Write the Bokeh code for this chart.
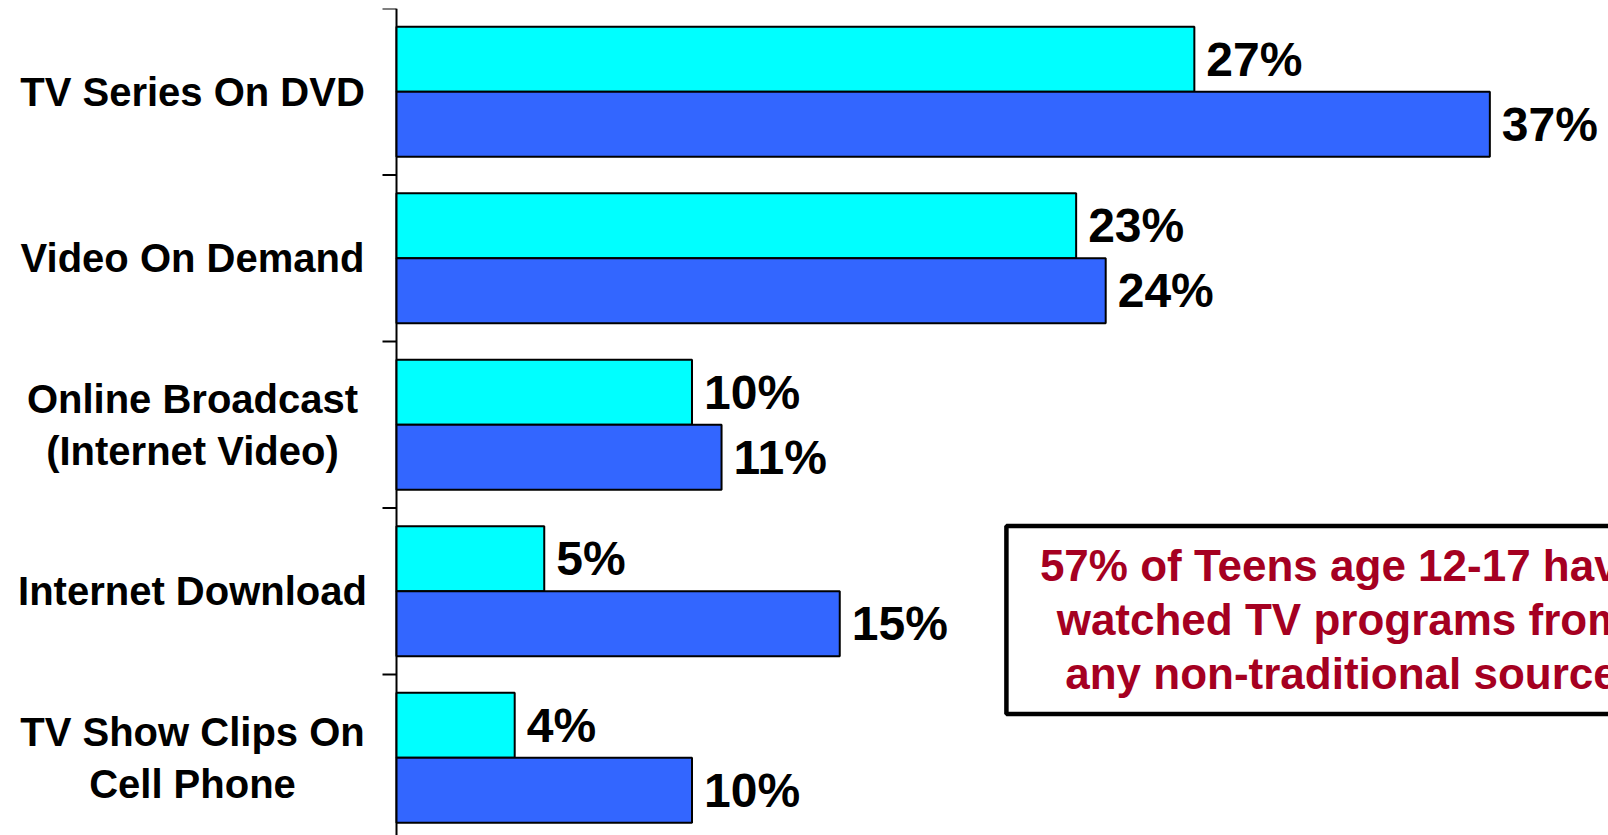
from bokeh.plotting import figure
from bokeh.models import Range1d, ColumnDataSource, BoxAnnotation, Label
from bokeh.core.properties import value
from bokeh.embed import file_html
from bokeh.resources import INLINE

# ---- data ----
categories = ["TV Series On DVD", "Video On Demand",
              "Online Broadcast\n(Internet Video)", "Internet Download",
              "TV Show Clips On\nCell Phone"]
series_cyan = [27, 23, 10, 5, 4]
series_blue = [37, 24, 11, 15, 10]
note_text = "57% of Teens age 12-17 have\nwatched TV programs from\nany non-traditional source"

FONT = "Liberation Sans"
n = len(categories)
idx = list(range(n))
bar_h = 0.39

W, H = 1608, 835
PX_PER_PCT = 29.55
AXIS_PX = 396
X0 = -AXIS_PX / PX_PER_PCT
X1 = (W - AXIS_PX) / PX_PER_PCT
Y_TOP = -0.5
Y_BOT = Y_TOP + (H - 8) / 166.5

p = figure(width=W, height=H, output_backend="svg", toolbar_location=None,
           x_range=Range1d(X0, X1), y_range=Range1d(Y_BOT, Y_TOP),
           min_border_left=0, min_border_right=0, min_border_top=8,
           min_border_bottom=0, x_axis_location=None, y_axis_location=None)
p.outline_line_color = None
p.xgrid.visible = False
p.ygrid.visible = False
p.background_fill_color = "white"
p.border_fill_color = "white"

# category axis line and boundary ticks
tick_len = 14 / PX_PER_PCT
bounds = [i - 0.5 for i in range(n + 1)]
p.segment(x0=[0], y0=[Y_TOP], x1=[0], y1=[Y_BOT], line_color="black", line_width=2)
p.segment(x0=[-tick_len] * len(bounds), y0=bounds, x1=[0] * len(bounds), y1=bounds,
          line_color="black", line_width=2)

src = ColumnDataSource(dict(
    cat=categories,
    y=idx,
    y_cyan=[i - bar_h / 2 for i in idx],
    y_blue=[i + bar_h / 2 for i in idx],
    v_cyan=series_cyan,
    v_blue=series_blue,
    t_cyan=[f"{v}%" for v in series_cyan],
    t_blue=[f"{v}%" for v in series_blue],
    zero=[0] * n,
))

p.hbar(y="y_cyan", left=0, right="v_cyan", height=bar_h, source=src,
       fill_color="#00FFFF", line_color="black", line_width=2)
p.hbar(y="y_blue", left=0, right="v_blue", height=bar_h, source=src,
       fill_color="#3366FF", line_color="black", line_width=2)

for col_y, col_v, col_t in (("y_cyan", "v_cyan", "t_cyan"), ("y_blue", "v_blue", "t_blue")):
    p.text(x=col_v, y=col_y, text=col_t, source=src, x_offset=12,
           text_align="left", text_baseline="middle",
           text_font=value(FONT), text_font_style="bold",
           text_font_size="48px", text_color="black")

p.text(x="zero", y="y", text="cat", source=src, x_offset=-204,
       text_align="center", text_baseline="middle",
       text_font=value(FONT), text_font_style="bold",
       text_font_size="40px", text_color="black", text_line_height=1.19)

box = BoxAnnotation(left=20.64, right=43.4, top=2.608, bottom=3.737,
                    fill_color="white", fill_alpha=1.0,
                    line_color="black", line_alpha=1.0, line_width=4.5)
p.add_layout(box)
note = Label(x=31.98, y=3.17, text=note_text, text_align="center",
             text_baseline="middle", text_font=FONT, text_font_style="bold",
             text_font_size="44px", text_color="#A50021", text_line_height=1.11)
p.add_layout(note)

open("out.html", "w").write(file_html(p, INLINE))
